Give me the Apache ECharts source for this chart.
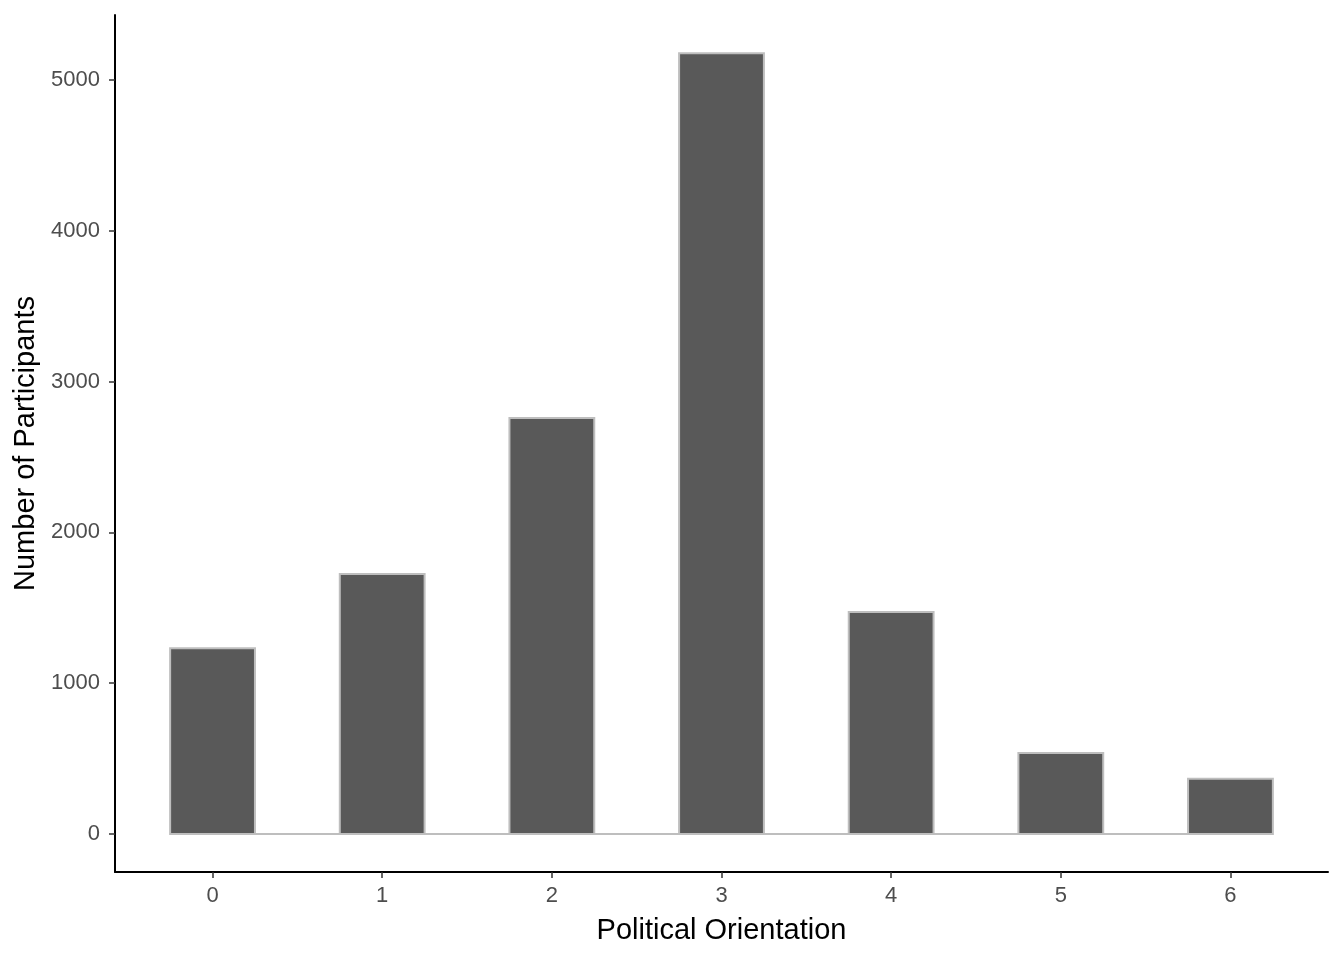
<!DOCTYPE html>
<html><head><meta charset="utf-8">
<script src="https://cdn.jsdelivr.net/npm/echarts@6/dist/echarts.min.js"></script>
<style>html,body{margin:0;padding:0;background:#fff}#c{width:1344px;height:960px}</style>
</head><body><div id="c"></div>
<script>
// Histogram bins (binwidth 0.5), centers and counts
const binCenters = [0, 0.5, 1, 1.5, 2, 2.5, 3, 3.5, 4, 4.5, 5, 5.5, 6];
const binCounts  = [1232, 0, 1724, 0, 2758, 0, 5178, 0, 1472, 0, 537, 0, 366];
const binWidth = 0.5;
const xTicks = [0, 1, 2, 3, 4, 5, 6];
const yTicks = [0, 1000, 2000, 3000, 4000, 5000];

const data = binCenters.map((c, i) => [c, binCounts[i]]);
const chart = echarts.init(document.getElementById('c'), null, {renderer: 'canvas'});
const font = 'Liberation Sans, Arial, sans-serif';
chart.setOption({
  animation: false,
  backgroundColor: '#fff',
  grid: {left: 115, right: 16, top: 15, bottom: 88, containLabel: false},
  xAxis: {
    type: 'value', min: -0.575, max: 6.575, interval: 1,
    name: 'Political Orientation', nameLocation: 'middle', nameGap: 44,
    nameTextStyle: {color: '#000', fontSize: 29, fontFamily: font},
    axisLine: {show: true, onZero: false, lineStyle: {color: '#000', width: 2}},
    axisTick: {show: true, length: 6, lineStyle: {color: '#333', width: 1.5},
      customValues: xTicks},
    axisLabel: {color: '#4d4d4d', fontSize: 22, fontFamily: font, margin: 13,
      customValues: xTicks, formatter: v => String(v)},
    splitLine: {show: false}
  },
  yAxis: {
    type: 'value', min: -252, max: 5431,
    name: 'Number of Participants', nameLocation: 'middle', nameGap: 72, nameRotate: 90,
    nameTextStyle: {color: '#000', fontSize: 29, fontFamily: font},
    axisLine: {show: true, onZero: false, lineStyle: {color: '#000', width: 2}},
    axisTick: {show: true, length: 6, lineStyle: {color: '#333', width: 1.5},
      customValues: yTicks},
    axisLabel: {color: '#4d4d4d', fontSize: 22, fontFamily: font, margin: 15,
      customValues: yTicks, formatter: v => String(v)},
    splitLine: {show: false}
  },
  series: [{
    type: 'custom',
    data: data,
    renderItem: function (params, api) {
      const c = api.value(0), v = api.value(1);
      const p0 = api.coord([c - binWidth / 2, v]);
      const p1 = api.coord([c + binWidth / 2, 0]);
      return {
        type: 'rect',
        shape: {x: p0[0], y: p0[1], width: p1[0] - p0[0], height: p1[1] - p0[1]},
        style: {fill: '#595959', stroke: '#bebebe', lineWidth: 2}
      };
    }
  }]
});
</script></body></html>
